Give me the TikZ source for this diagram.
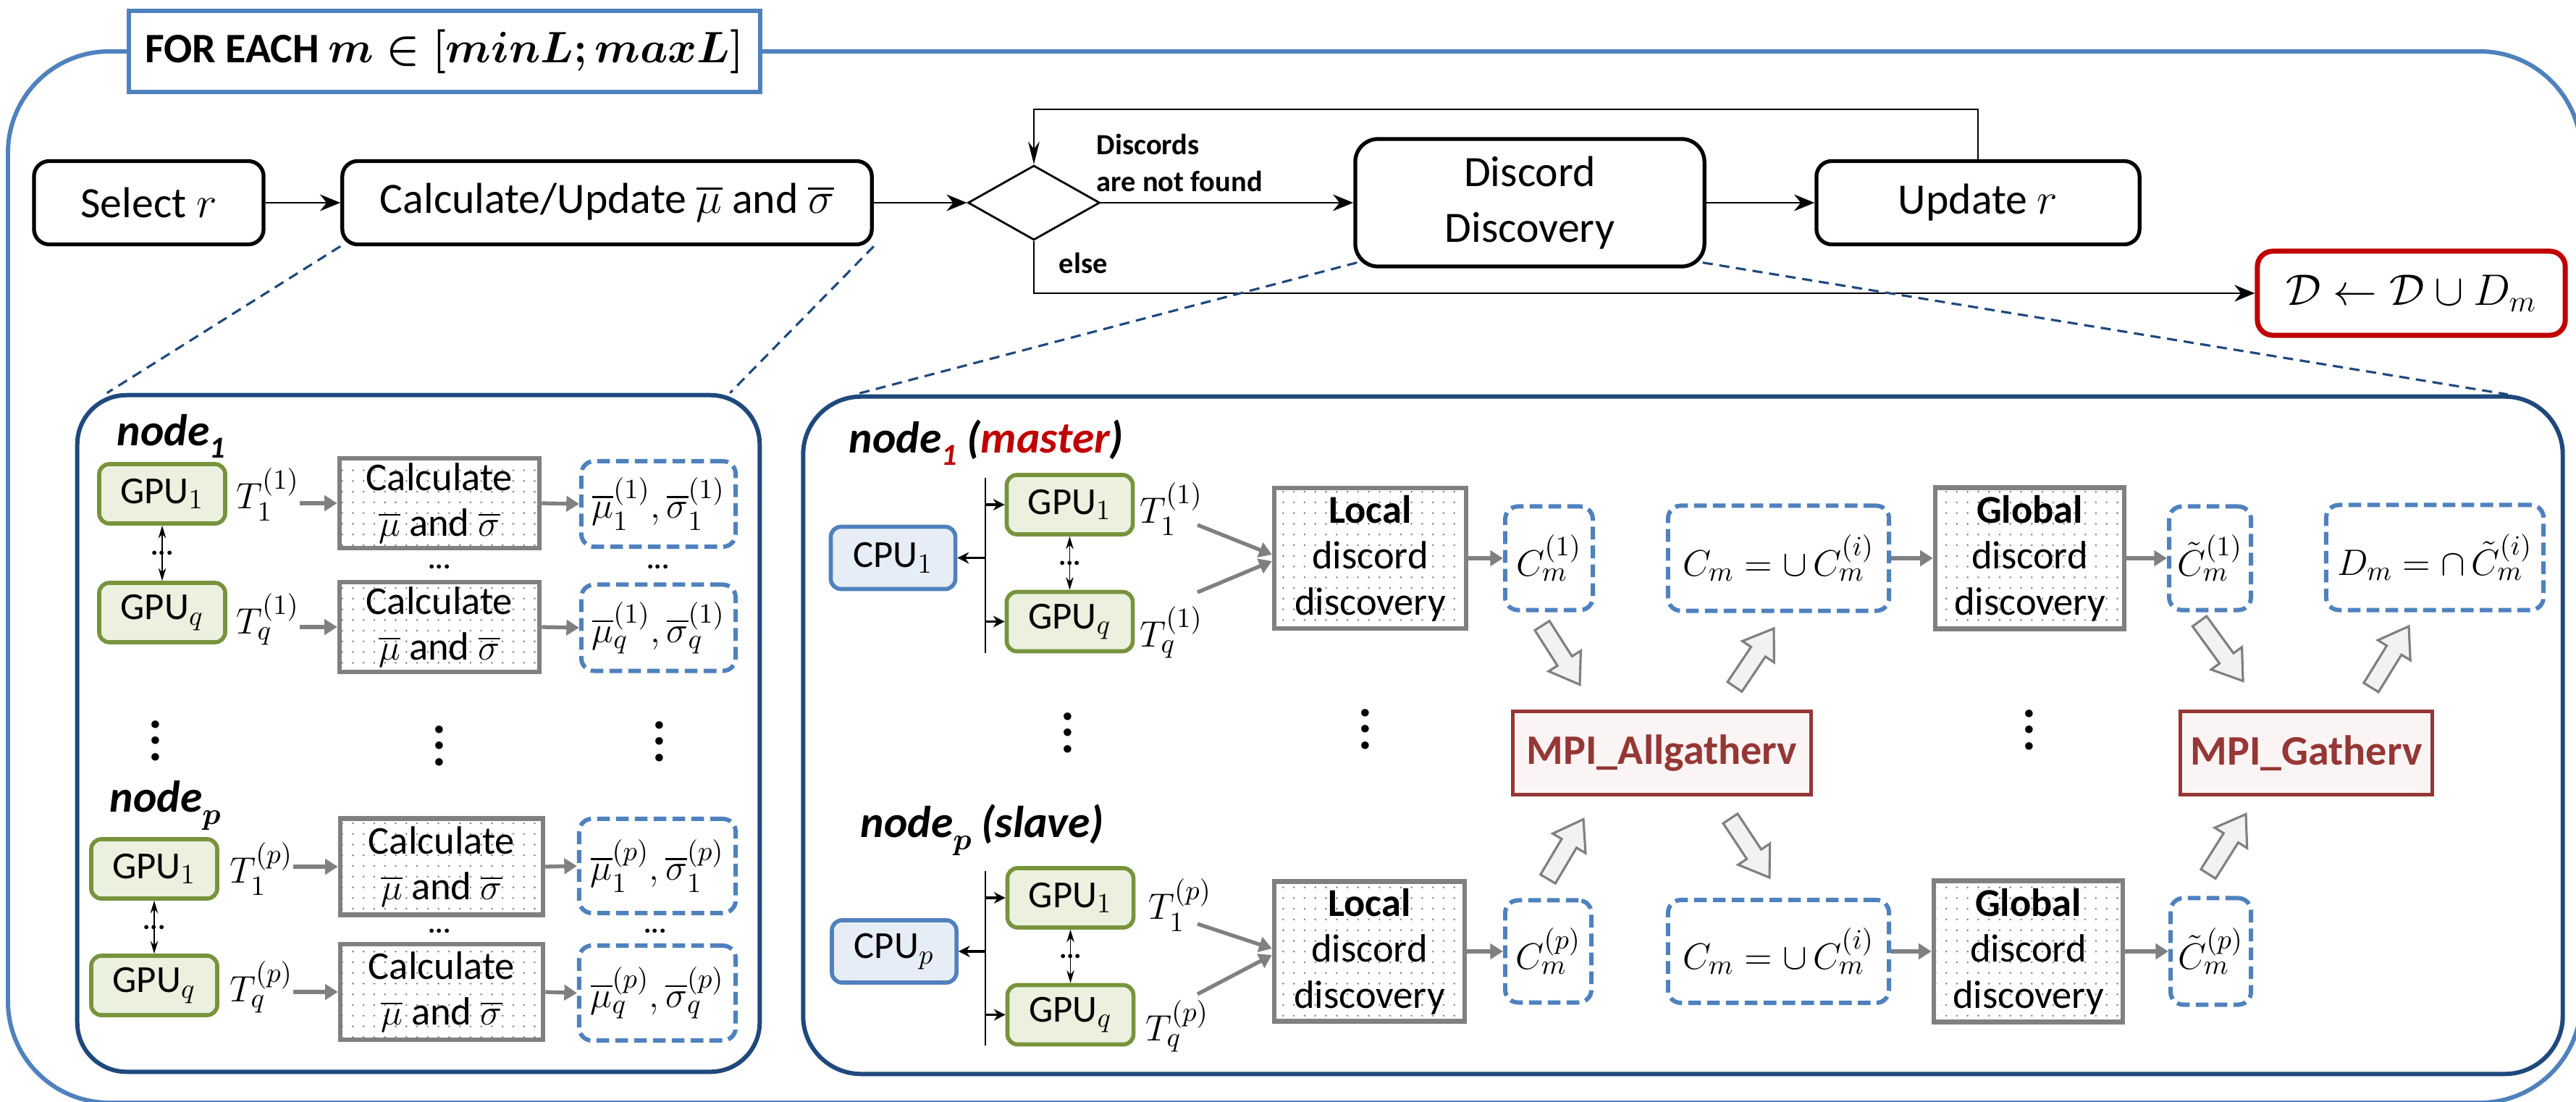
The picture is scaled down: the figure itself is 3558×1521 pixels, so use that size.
\documentclass[tikz,border=0pt]{standalone}
\usepackage{amsmath,amssymb,bm}
\usepackage{fontspec}
\setmainfont{Carlito}
\usetikzlibrary{arrows.meta,calc,shapes.geometric,patterns.meta}

\definecolor{frameblue}{HTML}{4F81BD}
\definecolor{panelblue}{HTML}{1F497D}
\definecolor{gpugreen}{HTML}{77933C}
\definecolor{gpufill}{HTML}{EBF1DE}
\definecolor{cpufill}{HTML}{E6EDF7}
\definecolor{mpired}{HTML}{953735}
\definecolor{mpifill}{HTML}{FBF4F4}
\definecolor{resred}{HTML}{C00000}
\definecolor{boxgray}{HTML}{808080}
\definecolor{arrowfill}{HTML}{F2F2F2}

% subscript for the bold italic node labels
\newcommand\nsub[1]{\raisebox{-0.28em}{\fontsize{12}{12}\selectfont #1}}
% tall vertical ellipsis
\newcommand\tallvdots{\vbox{\baselineskip=6.4pt\lineskiplimit=0pt\hbox{.}\hbox{.}\hbox{.}}}
% hollow block arrow between two named coordinates
\newcommand\blockarrow[2]{%
  \coordinate (hb) at ($(#2)!11pt!(#1)$);
  \filldraw[blockarr] ($(#1)!3.4pt!90:(#2)$) -- ($(hb)!3.4pt!90:(#2)$)
    -- ($(hb)!7.5pt!90:(#2)$) -- (#2) -- ($(hb)!7.5pt!-90:(#2)$)
    -- ($(hb)!3.4pt!-90:(#2)$) -- ($(#1)!3.4pt!-90:(#2)$) -- cycle;}

\tikzset{
  topbox/.style={draw=black, line width=1.5pt, rounded corners=6pt, fill=white, align=center,
    minimum height=1.15cm, inner sep=2pt, font=\fontsize{17}{22}\selectfont},
  titlebox/.style={draw=frameblue, line width=1.7pt, fill=white, minimum width=8.72cm,
    minimum height=1.12cm, font=\fontsize{16.5}{20}\selectfont},
  dia/.style={diamond, draw=black, line width=0.8pt, aspect=1.77, minimum width=1.82cm,
    minimum height=1.03cm, inner sep=0pt},
  resbox/.style={draw=resred, line width=2pt, rounded corners=6pt, fill=white,
    minimum width=4.25cm, minimum height=1.16cm, font=\fontsize{17}{21}\selectfont},
  flowarr/.style={draw=black, line width=0.8pt, -{Stealth[length=8pt,width=6.5pt]}},
  looparr/.style={draw=black, line width=0.5pt, -{Stealth[length=9pt,width=4.5pt]}},
  flowlbl/.style={font=\bfseries\fontsize{11.5}{14.5}\selectfont, inner sep=0pt, align=left},
  panel/.style={draw=panelblue, line width=1.7pt, inner sep=0pt},
  zoomline/.style={draw=panelblue, line width=0.9pt, dash pattern=on 4pt off 2.6pt},
  nodelbl/.style={font=\bfseries\itshape\fontsize{17.5}{21}\selectfont, inner sep=0pt},
  gpubox/.style={draw=gpugreen, fill=gpufill, line width=1.6pt, rounded corners=4pt,
    minimum width=1.74cm, minimum height=0.82cm, inner sep=0pt, font=\fontsize{15}{18}\selectfont},
  cpubox/.style={gpubox, draw=frameblue, fill=cpufill, minimum width=1.72cm, minimum height=0.86cm},
  tlbl/.style={inner sep=0pt, font=\fontsize{15.5}{18}\selectfont},
  procbox/.style={draw=boxgray, line width=1.8pt, pattern={Dots[distance=4.2pt,radius=0.4pt]},
    pattern color=boxgray, align=center, inner sep=0pt, font=\fontsize{15.5}{18}\selectfont},
  databox/.style={draw=frameblue, line width=1.7pt, dash pattern=on 5pt off 2.4pt,
    rounded corners=5pt, inner sep=0pt, font=\fontsize{15.5}{18}\selectfont},
  mpibox/.style={draw=mpired, fill=mpifill, line width=1.4pt, minimum height=1.15cm,
    text=mpired, font=\bfseries\fontsize{16.5}{20}\selectfont},
  grayarr/.style={draw=boxgray, line width=1.5pt, -{Triangle[length=5pt,width=6pt]}},
  busline/.style={draw=black, line width=0.8pt},
  busarr/.style={draw=black, line width=1.1pt, -{Stealth[length=4.5pt,width=4.5pt]}},
  gpuarr/.style={draw=black, line width=0.5pt, {Stealth[length=5pt,width=3pt]}-{Stealth[length=5pt,width=3pt]}},
  hdots/.style={font=\bfseries\fontsize{11}{11}\selectfont, inner sep=0pt},
  vdts/.style={inner sep=0pt, font=\bfseries\fontsize{20}{20}\selectfont},
  blockarr/.style={draw=boxgray, fill=arrowfill, line width=0.9pt, line join=miter},
}

\begin{document}
\begin{tikzpicture}[x=0.01cm,y=-0.01cm]
\useasboundingbox (0,0) rectangle (3558,1521);

% ---------- outer loop frame ----------
\draw[draw=frameblue, line width=1.7pt, rounded corners=1.4cm] (11,71) rectangle (3565,1523);
\node[titlebox] (title) at (614,71) {\textbf{FOR EACH} $\bm{m\in[minL;maxL]}$};

% ---------- top-level flow ----------
\node[topbox, minimum width=3.17cm] (selr) at (205.5,280) {Select $r$};
\node[topbox, minimum width=7.31cm] (calc) at (838.5,280) {Calculate/Update $\overline{\mu}$ and $\overline{\sigma}$};
\node[dia] (dia) at (1428,280) {};
\node[topbox, minimum width=4.82cm, minimum height=1.76cm, rounded corners=9pt] (disc) at (2113,280) {Discord\\Discovery};
\node[topbox, minimum width=4.46cm] (updr) at (2732,280) {Update $r$};
\node[resbox] (dres) at (3330.5,405) {$\mathcal{D}\leftarrow\mathcal{D}\cup D_m$};
\coordinate (looptop) at ($(dia.north)+(0,-76)$);

\draw[flowarr] (selr.east) -- (calc.west);
\draw[flowarr] (calc.east) -- (dia.west);
\draw[flowarr] (dia.east) -- (disc.west);
\draw[flowarr] (disc.east) -- (updr.west);
\draw[looparr] (updr.north) |- (looptop) -- (dia.north);
\draw[flowarr] (dia.south) |- (dres.west);
\node[flowlbl, anchor=north west] (lblnf) at (1514,184) {Discords\\are not found};
\node[flowlbl, anchor=base west] (lblelse) at (1462,377) {else};

% ---------- detail panels ----------
\node[panel, rounded corners=0.68cm, minimum width=9.42cm, minimum height=9.34cm] (lpanel) at (578,1013) {};
\node[panel, rounded corners=0.8cm, minimum width=24.29cm, minimum height=9.35cm] (rpanel) at (2324.5,1015.5) {};

\draw[zoomline] (calc.south west) -- ($(lpanel.north west)+(44,0)$);
\draw[zoomline] (calc.south east) -- ($(lpanel.north east)+(-44,0)$);
\draw[zoomline] ($(disc.south west)+(5,-8)$) -- ($(rpanel.north west)+(75,0)$);
\draw[zoomline] ($(disc.south east)+(-5,-8)$) -- ($(rpanel.north east)+(-79,0)$);

% ---------- left panel: mean / deviation on every node ----------
\node[nodelbl, anchor=base west] (n1lbl) at (161,615) {node\nsub{1}};
\node[gpubox] (g1a) at (224,682) {GPU$_1$};
\node[gpubox] (gqa) at (224,846) {GPU$_q$};
\draw[gpuarr] (g1a.south) -- (gqa.north) node[midway, hdots] {...};
\node[tlbl] (t1a) at (370,683) {$T_1^{(1)}$};
\node[tlbl] (tqa) at (370,855) {$T_q^{(1)}$};
\node[procbox, minimum width=2.76cm, minimum height=1.24cm] (c1a) at (607,695) {Calculate\\$\overline{\mu}$ and $\overline{\sigma}$};
\node[procbox, minimum width=2.76cm, minimum height=1.24cm] (cqa) at (607,866) {Calculate\\$\overline{\mu}$ and $\overline{\sigma}$};
\node[databox, minimum width=2.13cm, minimum height=1.18cm] (r1a) at (909.5,696) {$\overline{\mu}_1^{(1)},\overline{\sigma}_1^{(1)}$};
\node[databox, minimum width=2.13cm, minimum height=1.19cm] (rqa) at (909.5,867) {$\overline{\mu}_q^{(1)},\overline{\sigma}_q^{(1)}$};
\draw[grayarr] (t1a.east |- c1a.west) -- (c1a.west);
\draw[grayarr] (tqa.east |- cqa.west) -- (cqa.west);
\draw[grayarr] (c1a.east) -- (r1a.west);
\draw[grayarr] (cqa.east) -- (rqa.west);
\node[hdots] (hd1) at (607,783) {...};
\node[hdots] (hd2) at (909,783) {...};

\node[vdts] (vl1) at (215,1023) {\tallvdots};
\node[vdts] (vl2) at (607,1030) {\tallvdots};
\node[vdts] (vl3) at (911,1024) {\tallvdots};

\node[nodelbl, anchor=base west] (nplbl) at (151,1121) {node\nsub{$\bm{p}$}};
\node[gpubox] (g1b) at (213,1200) {GPU$_1$};
\node[gpubox] (gqb) at (213,1361) {GPU$_q$};
\draw[gpuarr] (g1b.south) -- (gqb.north) node[midway, hdots] {...};
\node[tlbl] (t1b) at (361,1200) {$T_1^{(p)}$};
\node[tlbl] (tqb) at (361,1363) {$T_q^{(p)}$};
\node[procbox, minimum width=2.8cm, minimum height=1.33cm] (c1b) at (610,1197) {Calculate\\$\overline{\mu}$ and $\overline{\sigma}$};
\node[procbox, minimum width=2.8cm, minimum height=1.32cm] (cqb) at (610,1370) {Calculate\\$\overline{\mu}$ and $\overline{\sigma}$};
\node[databox, minimum width=2.16cm, minimum height=1.3cm] (r1b) at (908,1196) {$\overline{\mu}_1^{(p)},\overline{\sigma}_1^{(p)}$};
\node[databox, minimum width=2.16cm, minimum height=1.31cm] (rqb) at (908,1371.5) {$\overline{\mu}_q^{(p)},\overline{\sigma}_q^{(p)}$};
\draw[grayarr] (t1b.east |- c1b.west) -- (c1b.west);
\draw[grayarr] (tqb.east |- cqb.west) -- (cqb.west);
\draw[grayarr] (c1b.east) -- (r1b.west);
\draw[grayarr] (cqb.east) -- (rqb.west);
\node[hdots] (hd3) at (607,1286) {...};
\node[hdots] (hd4) at (905,1286) {...};

% ---------- right panel: master node ----------
\node[nodelbl, anchor=base west] (mlbl) at (1172,625) {node\nsub{\textcolor{resred}{1}} (\textcolor{resred}{master})};
\node[cpubox] (cpu1) at (1233.5,770.5) {CPU$_1$};
\coordinate (bus1t) at (1361,660);
\coordinate (bus1b) at (1361,902);
\draw[busline] (bus1t) -- (bus1b);
\node[gpubox] (g1m) at (1477.5,697) {GPU$_1$};
\node[gpubox] (gqm) at (1477.5,858.5) {GPU$_q$};
\draw[busarr] (bus1t |- cpu1.east) -- (cpu1.east);
\draw[busarr] (bus1t |- g1m.west) -- (g1m.west);
\draw[busarr] (bus1t |- gqm.west) -- (gqm.west);
\draw[gpuarr] (g1m.south) -- (gqm.north) node[midway, hdots] {...};
\node[tlbl] (t1m) at (1618,703) {$T_1^{(1)}$};
\node[tlbl] (tqm) at (1618,873) {$T_q^{(1)}$};
\node[procbox, minimum width=2.65cm, minimum height=1.94cm] (loc1) at (1892.5,771) {\textbf{Local}\\discord\\discovery};
\draw[grayarr] ($(t1m.center)+(36,22)$) -- ($(loc1.west)+(0,-5)$);
\draw[grayarr] ($(tqm.center)+(36,-55)$) -- ($(loc1.west)+(0,4)$);
\node[databox, minimum width=1.21cm, minimum height=1.43cm] (cm1) at (2139.5,771) {$C_m^{(1)}$};
\node[databox, minimum width=3.05cm, minimum height=1.45cm] (cu1) at (2456.5,771) {$C_m=\cup\,C_m^{(i)}$};
\node[procbox, minimum width=2.61cm, minimum height=1.95cm] (gl1) at (2803.5,771) {\textbf{Global}\\discord\\discovery};
\node[databox, minimum width=1.13cm, minimum height=1.43cm] (ct1) at (3052.5,771) {$\tilde{C}_m^{(1)}$};
\node[databox, minimum width=3.0cm, minimum height=1.45cm] (dm) at (3363,770) {$D_m=\cap\,\tilde{C}_m^{(i)}$};
\draw[grayarr] (loc1.east) -- (cm1.west);
\draw[grayarr] (cu1.east) -- (gl1.west);
\draw[grayarr] (gl1.east) -- (ct1.west);

% ---------- MPI collectives ----------
\node[mpibox, minimum width=4.11cm] (allg) at (2295.5,1040) {MPI\_Allgatherv};
\node[mpibox, minimum width=3.47cm] (gath) at (3185.5,1040) {MPI\_Gatherv};
\node[vdts] (vr1) at (1475,1012) {\tallvdots};
\node[vdts] (vr2) at (1886,1007) {\tallvdots};
\node[vdts] (vr3) at (2803,1008) {\tallvdots};

% ---------- right panel: slave node ----------
\node[nodelbl, anchor=base west] (slbl) at (1188,1156) {node\nsub{$\bm{p}$} (slave)};
\node[cpubox] (cpup) at (1235,1314) {CPU$_p$};
\coordinate (buspt) at (1361,1203);
\coordinate (buspb) at (1361,1444);
\draw[busline] (buspt) -- (buspb);
\node[gpubox] (g1s) at (1478.5,1240) {GPU$_1$};
\node[gpubox] (gqs) at (1478.5,1401.5) {GPU$_q$};
\draw[busarr] (buspt |- cpup.east) -- (cpup.east);
\draw[busarr] (buspt |- g1s.west) -- (g1s.west);
\draw[busarr] (buspt |- gqs.west) -- (gqs.west);
\draw[gpuarr] (g1s.south) -- (gqs.north) node[midway, hdots] {...};
\node[tlbl] (t1s) at (1630,1250) {$T_1^{(p)}$};
\node[tlbl] (tqs) at (1626,1417) {$T_q^{(p)}$};
\node[procbox, minimum width=2.63cm, minimum height=1.93cm] (locp) at (1891.5,1314) {\textbf{Local}\\discord\\discovery};
\draw[grayarr] ($(t1s.center)+(24,26)$) -- ($(locp.west)+(0,-4)$);
\draw[grayarr] ($(tqs.center)+(28,-44)$) -- ($(locp.west)+(0,5)$);
\node[databox, minimum width=1.19cm, minimum height=1.41cm] (cmp) at (2138.5,1314) {$C_m^{(p)}$};
\node[databox, minimum width=3.05cm, minimum height=1.42cm] (cup) at (2456.5,1314) {$C_m=\cup\,C_m^{(i)}$};
\node[procbox, minimum width=2.61cm, minimum height=1.95cm] (glp) at (2801.5,1314) {\textbf{Global}\\discord\\discovery};
\node[databox, minimum width=1.11cm, minimum height=1.47cm] (ctp) at (3053.5,1314) {$\tilde{C}_m^{(p)}$};
\draw[grayarr] (locp.east) -- (cmp.west);
\draw[grayarr] (cup.east) -- (glp.west);
\draw[grayarr] (glp.east) -- (ctp.west);

% ---------- exchange arrows ----------
\coordinate (b1a) at ($(cm1.south)+(-9.5,18.5)$);
\coordinate (b1b) at ($(allg.north)+(-113.5,-34.5)$);
\coordinate (b2a) at ($(allg.north)+(100.5,-31.5)$);
\coordinate (b2b) at ($(cu1.south)+(-6.5,21.5)$);
\coordinate (b3a) at ($(cmp.north)+(-0.5,-26.5)$);
\coordinate (b3b) at ($(allg.south)+(-108.5,31.5)$);
\coordinate (b4a) at ($(allg.south)+(94.5,30.5)$);
\coordinate (b4b) at ($(cup.north)+(-12.5,-28)$);
\coordinate (b5a) at ($(ct1.south)+(-14.5,12.5)$);
\coordinate (b5b) at ($(gath.north)+(-87.5,-39.5)$);
\coordinate (b6a) at ($(gath.north)+(89.5,-30.5)$);
\coordinate (b6b) at ($(dm.south)+(-36,19.5)$);
\coordinate (b7a) at ($(ctp.north)+(-3.5,-30.5)$);
\coordinate (b7b) at ($(gath.south)+(-83.5,24.5)$);
\blockarrow{b1a}{b1b}
\blockarrow{b2a}{b2b}
\blockarrow{b3a}{b3b}
\blockarrow{b4a}{b4b}
\blockarrow{b5a}{b5b}
\blockarrow{b6a}{b6b}
\blockarrow{b7a}{b7b}
\end{tikzpicture}
\end{document}
